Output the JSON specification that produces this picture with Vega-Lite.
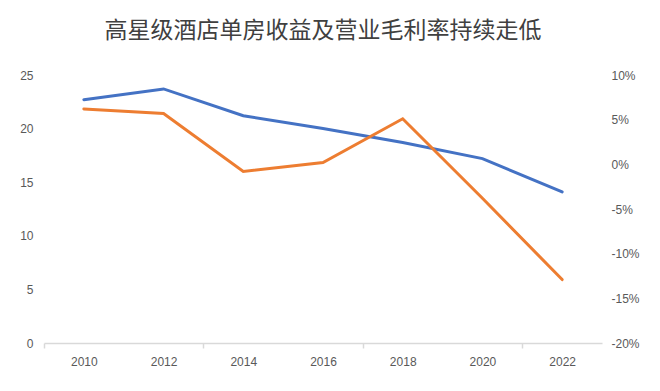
{
  "$schema": "https://vega.github.io/schema/vega-lite/v6.json",
  "autosize": "none",
  "width": 558,
  "height": 268,
  "padding": {"left": 44, "top": 75, "right": 58, "bottom": 48},
  "background": "white",
  "title": {
    "text": "高星级酒店单房收益及营业毛利率持续走低",
    "font": "Noto Sans CJK SC",
    "fontSize": 23,
    "fontWeight": "normal",
    "color": "#404040",
    "anchor": "middle",
    "offset": 26
  },
  "config": {
    "view": {"stroke": null},
    "axis": {
      "labelFont": "Liberation Sans",
      "labelFontSize": 12,
      "labelColor": "#595959",
      "grid": false,
      "title": null
    }
  },
  "data": {
    "values": [
      {"year": 2010, "revpar": 22.7, "margin": 6.2},
      {"year": 2012, "revpar": 23.7, "margin": 5.7},
      {"year": 2014, "revpar": 21.2, "margin": -0.8},
      {"year": 2016, "revpar": 20.0, "margin": 0.2},
      {"year": 2018, "revpar": 18.7, "margin": 5.1},
      {"year": 2020, "revpar": 17.2, "margin": -3.8},
      {"year": 2022, "revpar": 14.1, "margin": -12.9}
    ]
  },
  "layer": [
    {
      "mark": {"type": "line", "color": "#4472C4", "strokeWidth": 3, "strokeCap": "round"},
      "encoding": {
        "x": {
          "field": "year", "type": "quantitative",
          "scale": {"domain": [2009, 2023], "nice": false, "zero": false},
          "axis": {"orient": "bottom", "values": [2010, 2012, 2014, 2016, 2018, 2020, 2022], "format": "d", "ticks": false, "domain": false, "labelPadding": 13}
        },
        "y": {
          "field": "revpar", "type": "quantitative",
          "scale": {"domain": [0, 25], "nice": false},
          "axis": {"values": [0, 5, 10, 15, 20, 25], "ticks": false, "domain": false, "labelPadding": 11}
        }
      }
    },
    {
      "mark": {"type": "line", "color": "#ED7D31", "strokeWidth": 3, "strokeCap": "round"},
      "encoding": {
        "x": {
          "field": "year", "type": "quantitative",
          "axis": {"orient": "bottom", "values": [2009, 2013, 2017, 2021], "labels": false, "ticks": true, "tickSize": 5, "tickColor": "#D9D9D9", "tickWidth": 1.5, "domain": true, "domainColor": "#D9D9D9", "domainWidth": 1.5}
        },
        "y": {
          "field": "margin", "type": "quantitative",
          "scale": {"domain": [-20, 10], "nice": false, "zero": false},
          "axis": {"orient": "right", "values": [-20, -15, -10, -5, 0, 5, 10], "labelExpr": "datum.value + '%'", "ticks": false, "domain": false, "labelPadding": 9}
        }
      }
    }
  ],
  "resolve": {"scale": {"y": "independent", "x": "shared"}, "axis": {"x": "independent"}}
}
